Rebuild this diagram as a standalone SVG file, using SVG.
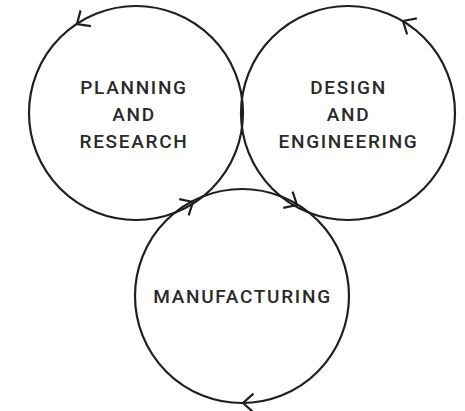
<svg xmlns="http://www.w3.org/2000/svg" width="465" height="411" viewBox="0 0 465 411">
<style>
.ring{fill:none;stroke:#1f1f1f;stroke-width:2.2}
.lbl{font-family:Roboto,"Liberation Sans",sans-serif;font-size:19px;font-weight:500;letter-spacing:1.7px;fill:#2a2a2a;text-anchor:middle}
.ah{fill:none;stroke:#1f1f1f;stroke-width:2.2}
</style>
<defs>
<path id="head" class="ah" d="M-10.5,-9.4 L0,0 L-10.5,9.4"/>
</defs>
<rect width="465" height="411" fill="#ffffff"/>
<g id="planning">
<circle class="ring" cx="136" cy="113" r="107"/>
<text class="lbl" x="134" y="94">PLANNING</text>
<text class="lbl" x="134" y="121">AND</text>
<text class="lbl" x="134" y="147.5">RESEARCH</text>
</g>
<g id="design">
<circle class="ring" cx="348" cy="113" r="107"/>
<text class="lbl" x="348.5" y="94">DESIGN</text>
<text class="lbl" x="348.5" y="121">AND</text>
<text class="lbl" x="348.5" y="147.5">ENGINEERING</text>
</g>
<g id="manufacturing">
<circle class="ring" cx="242" cy="296" r="107"/>
<text class="lbl" x="242.5" y="303">MANUFACTURING</text>
</g>
<g id="connectors">
<use href="#head" transform="translate(77,24) rotate(146.5)"/>
<use href="#head" transform="translate(403,21) rotate(211)"/>
<use href="#head" transform="translate(193,202) rotate(-30)"/>
<use href="#head" transform="translate(297,205) rotate(30)"/>
<use href="#head" transform="translate(243,403) rotate(180)"/>
</g>
</svg>
